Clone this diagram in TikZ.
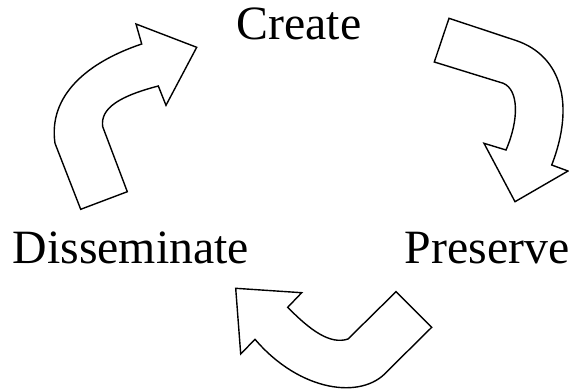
\documentclass[tikz,border=0pt]{standalone}
\usepackage{fontspec}
\setmainfont{Liberation Serif}
\tikzset{
	bentarrow/.style={draw=black, fill=white, line width=1.4pt, line join=miter},
	stagelabel/.style={inner sep=0pt, anchor=base west, font=\fontsize{47.8}{52}\selectfont}
}

\begin{document}
\begin{tikzpicture}[x=1pt, y=-1pt]
		%%%%% START %%%%%
		\useasboundingbox (0, 0) rectangle (569, 391);
		
		\node[stagelabel] (create) at (236.5, 39.3) {Create};
		\node[stagelabel] (disseminate) at (12.5, 263.3) {Disseminate};
		\node[stagelabel] (preserve) at (404.5, 263.3) {Preserve};
		
		% disseminate -> create
		\draw[bentarrow] (80.7, 209.3) -- (127.3, 191.7) -- (102.7, 126.7)
			.. controls (100, 108) and (120, 96) .. (158.3, 86)
			-- (166, 105.3) -- (196.7, 47.3) -- (136, 24) -- (141.7, 44)
			.. controls (88, 62) and (48, 95) .. (55, 143.3) -- cycle;
		
		% create -> preserve
		\draw[bentarrow] (449, 18.3) -- (434.3, 62) -- (503.3, 83.3)
			.. controls (519, 90) and (519, 120) .. (506, 150)
			-- (484, 143.3) -- (515, 201.7) -- (568, 171) -- (551.7, 165)
			.. controls (575, 105) and (562, 56) .. (516, 40.5) -- cycle;
		
		% preserve -> disseminate
		\draw[bentarrow] (396, 291.7) -- (431.7, 327.3) -- (387, 371.5)
			.. controls (362, 400) and (300, 392) .. (255, 339.3)
			-- (240.7, 354) -- (235.7, 288.3) -- (301.7, 292.7) -- (287.7, 307.3)
			.. controls (310, 330) and (330, 345) .. (348, 339) -- cycle;
		%%%%% END %%%%%
\end{tikzpicture}
\end{document}
